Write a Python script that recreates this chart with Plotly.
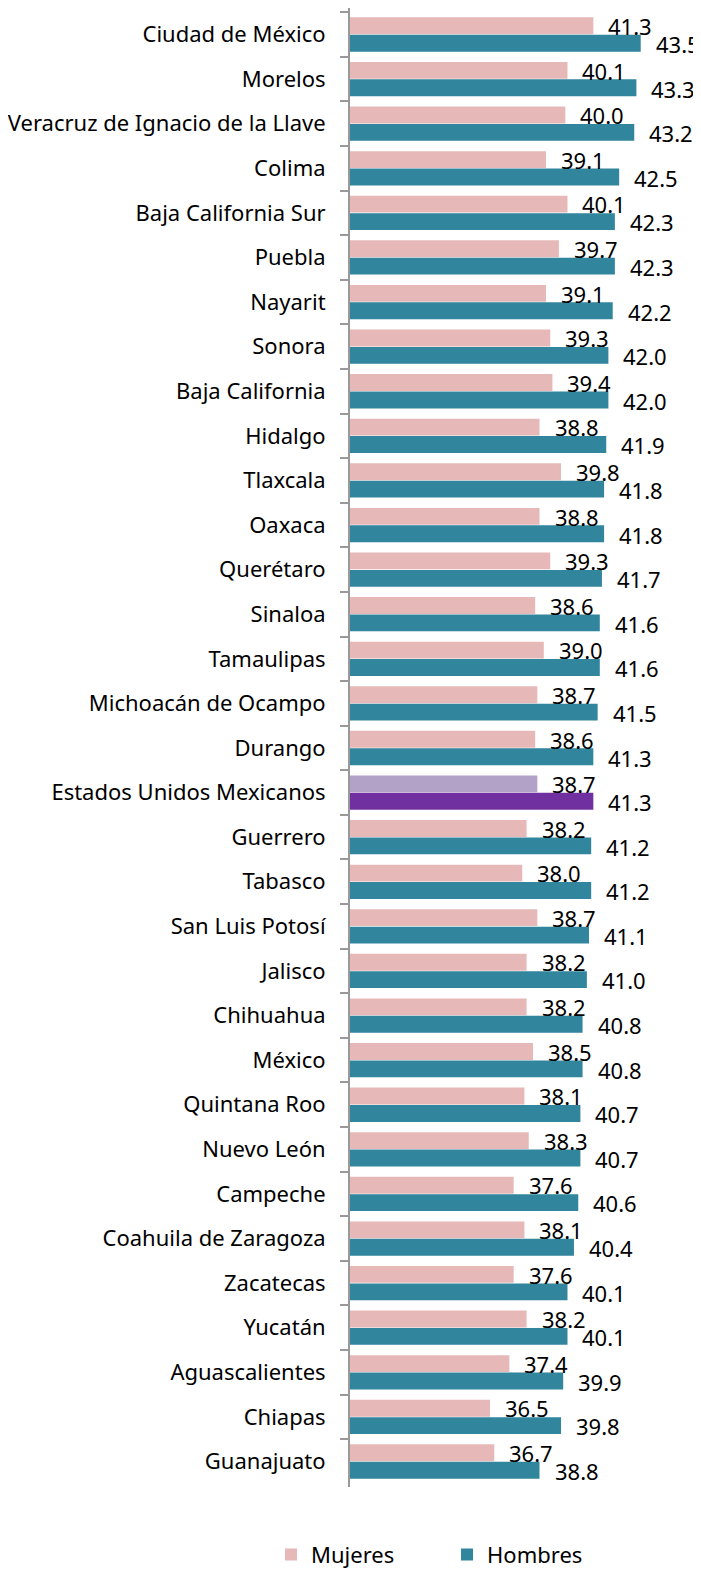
import plotly.graph_objects as go

estados = ["Ciudad de México", "Morelos", "Veracruz de Ignacio de la Llave", "Colima",
           "Baja California Sur", "Puebla", "Nayarit", "Sonora", "Baja California", "Hidalgo",
           "Tlaxcala", "Oaxaca", "Querétaro", "Sinaloa", "Tamaulipas", "Michoacán de Ocampo",
           "Durango", "Estados Unidos Mexicanos", "Guerrero", "Tabasco", "San Luis Potosí",
           "Jalisco", "Chihuahua", "México", "Quintana Roo", "Nuevo León", "Campeche",
           "Coahuila de Zaragoza", "Zacatecas", "Yucatán", "Aguascalientes", "Chiapas",
           "Guanajuato"]
mujeres = [41.3, 40.1, 40.0, 39.1, 40.1, 39.7, 39.1, 39.3, 39.4, 38.8, 39.8, 38.8, 39.3, 38.6,
           39.0, 38.7, 38.6, 38.7, 38.2, 38.0, 38.7, 38.2, 38.2, 38.5, 38.1, 38.3, 37.6, 38.1,
           37.6, 38.2, 37.4, 36.5, 36.7]
hombres = [43.5, 43.3, 43.2, 42.5, 42.3, 42.3, 42.2, 42.0, 42.0, 41.9, 41.8, 41.8, 41.7, 41.6,
           41.6, 41.5, 41.3, 41.3, 41.2, 41.2, 41.1, 41.0, 40.8, 40.8, 40.7, 40.7, 40.6, 40.4,
           40.1, 40.1, 39.9, 39.8, 38.8]
nacional = "Estados Unidos Mexicanos"

C_M, C_H = "#E6B8B7", "#31859C"
C_MN, C_HN = "#B3A2C7", "#7030A0"
col_m = [C_MN if e == nacional else C_M for e in estados]
col_h = [C_HN if e == nacional else C_H for e in estados]

FONT = "Noto Sans"
FS = 22

fig = go.Figure()
fig.add_trace(go.Bar(y=estados, x=mujeres, orientation="h", name="Mujeres",
                     marker=dict(color=col_m, line=dict(width=0))))
fig.add_trace(go.Bar(y=estados, x=hombres, orientation="h", name="Hombres",
                     marker=dict(color=col_h, line=dict(width=0))))

ann = []
for e, m, h in zip(estados, mujeres, hombres):
    ann.append(dict(x=m, y=e, text=f"{m:.1f}", showarrow=False, xanchor="left",
                    yanchor="middle", xshift=13, yshift=8.5,
                    font=dict(family=FONT, size=FS, color="#000")))
    ann.append(dict(x=h, y=e, text=f"{h:.1f}", showarrow=False, xanchor="left",
                    yanchor="middle", xshift=13, yshift=-9.5,
                    font=dict(family=FONT, size=FS, color="#000")))

# the page body adds an 8 px offset at the top-left, so the figure is 693 x 1564
fig.update_layout(
    width=693, height=1564,
    margin=dict(l=342, r=0, t=0, b=85, autoexpand=False),
    barmode="group", bargap=0.22, bargroupgap=0.03,
    plot_bgcolor="white", paper_bgcolor="white",
    font=dict(family=FONT, size=FS, color="#000"),
    annotations=ann,
    legend=dict(orientation="h", xref="paper", yref="paper",
                x=-0.225, y=-0.060, xanchor="left", yanchor="bottom",
                entrywidth=131, entrywidthmode="pixels",
                font=dict(family=FONT, size=FS, color="#000"),
                traceorder="normal"),
)
fig.update_xaxes(range=[30, 46.3], visible=False)
fig.update_yaxes(autorange="reversed", type="category", showline=True, linecolor="#999999",
                 linewidth=2, ticks="outside", tickson="boundaries", ticklen=8,
                 tickcolor="#999999", tickwidth=2, ticklabelstandoff=18, automargin=False,
                 tickfont=dict(family=FONT, size=FS, color="#000"), showgrid=False)

fig.write_html("out.html")
